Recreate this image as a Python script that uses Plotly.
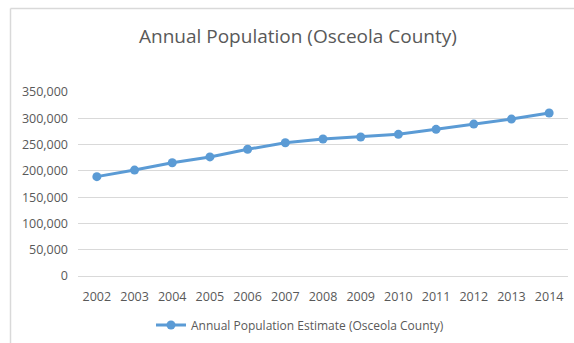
import plotly.graph_objects as go

# Annual population estimates, Osceola County
years = ["2002", "2003", "2004", "2005", "2006", "2007", "2008",
         "2009", "2010", "2011", "2012", "2013", "2014"]
population = [189000, 201500, 215500, 226500, 241000, 253500, 260500,
              264500, 269500, 279000, 289000, 298500, 310000]
series_name = "Annual Population Estimate (Osceola County)"
chart_title = "Annual Population (Osceola County)"
y_ticks = [0, 50000, 100000, 150000, 200000, 250000, 300000, 350000]

W, H = 574, 343
ML, MR, MT, MB = 78, 6, 92, 67
pw, ph = W - ML - MR, H - MT - MB


def px_x(x):
    return (x - ML) / pw


def px_y(y):
    return (H - MB - y) / ph


font = "Open Sans, Liberation Sans, sans-serif"
grey = "#595959"

fig = go.Figure()
fig.add_trace(go.Scatter(
    x=years, y=population, name=series_name,
    mode="lines+markers",
    line=dict(color="#5b9bd5", width=3),
    marker=dict(color="#5b9bd5", size=9),
))

fig.update_layout(
    width=W, height=H,
    margin=dict(l=ML, r=MR, t=MT, b=MB, autoexpand=False),
    paper_bgcolor="white", plot_bgcolor="white",
    font=dict(family=font, color=grey, size=12),
    showlegend=True,
    legend=dict(orientation="h", x=px_x(300), xanchor="center",
                y=px_y(325), yanchor="middle",
                font=dict(size=12, color=grey)),
    xaxis=dict(type="category", range=[-0.5, len(years) - 0.5],
               showgrid=False, showline=False,
               ticks="", ticklabelstandoff=11,
               tickfont=dict(size=12.5, color=grey)),
    yaxis=dict(range=[0, 350000], tickvals=y_ticks, tickformat=",",
               showgrid=True, gridcolor="#d9d9d9", gridwidth=1,
               zeroline=True, zerolinecolor="#d9d9d9", zerolinewidth=1,
               showline=False, ticks="", ticklabelstandoff=9,
               tickfont=dict(size=12.5, color=grey)),
    annotations=[dict(text=chart_title, xref="paper", yref="paper",
                      x=px_x(298), y=px_y(36), xanchor="center",
                      yanchor="middle", showarrow=False,
                      font=dict(size=19, color=grey))],
    shapes=[
        dict(type="line", xref="paper", yref="paper",
             x0=px_x(10.5), x1=px_x(10.5), y0=px_y(H + 5), y1=px_y(8.5),
             line=dict(color="#d9d9d9", width=1.5)),
        dict(type="line", xref="paper", yref="paper",
             x0=px_x(10.5), x1=px_x(W + 5), y0=px_y(8.5), y1=px_y(8.5),
             line=dict(color="#d9d9d9", width=1.5)),
    ],
)

fig.write_html("out.html")
